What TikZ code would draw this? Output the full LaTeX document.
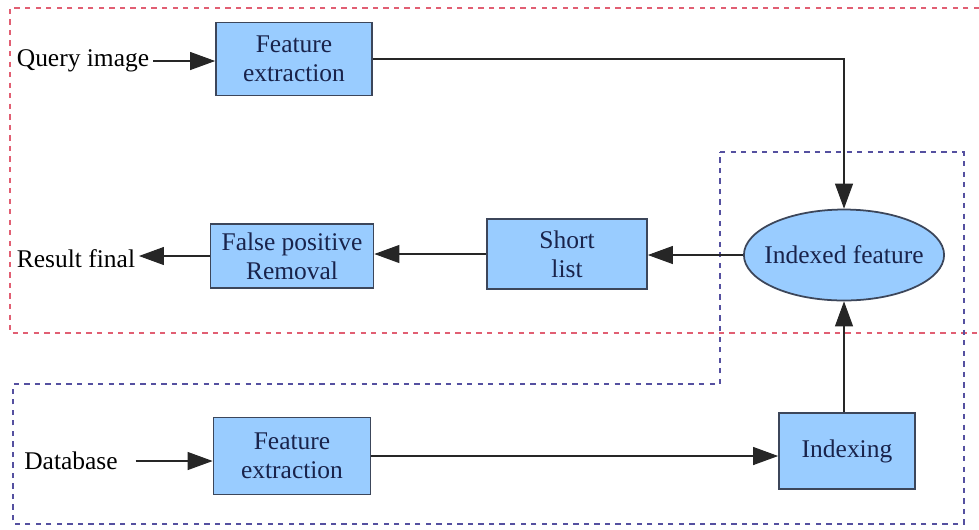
\documentclass[tikz,border=0pt]{standalone}
\usepackage{fontspec}
\setmainfont{Liberation Serif}
\usetikzlibrary{arrows.meta,shapes.geometric}
\definecolor{boxfill}{RGB}{153,204,255}
\definecolor{boxline}{RGB}{60,70,90}
\definecolor{boxtext}{RGB}{25,35,75}
\definecolor{zonered}{RGB}{225,95,115}
\definecolor{zoneblue}{RGB}{85,80,160}

\begin{document}
\begin{tikzpicture}[x=0.02cm,y=-0.02cm,font=\rmfamily\fontsize{14.5}{16.5}\selectfont]
\tikzstyle{lien}=[-{Triangle[length=0.5cm,width=0.36cm]},line width=0.6pt,black!85]
\tikzset{bloc/.style={draw=boxline,line width=1pt,fill=boxfill,text=boxtext,align=center,inner sep=1pt},
etiquette/.style={inner sep=2pt}}
\useasboundingbox (0,0) rectangle (979,529);

% zones
\draw[zonered,dashed,line width=0.9pt] (979,8) -- (10,8) -- (10,333) -- (979,333);
\draw[zoneblue,dashed,line width=0.9pt] (720,152) -- (964,152) -- (964,524) -- (13,524) -- (13,384) -- (720,384) -- cycle;

\node[etiquette] (QI) at (83,61) {Query image};
\node[bloc,minimum width=3.12cm,minimum height=1.46cm] (FE1) at (294,59) {Feature\\extraction};
\node[bloc,ellipse,inner xsep=-5pt,minimum width=3.98cm,minimum height=1.82cm] (IF) at (844,255) {Indexed feature};
\node[bloc,minimum width=3.2cm,minimum height=1.4cm] (SL) at (567,254) {Short\\list};
\node[bloc,minimum width=3.26cm,minimum height=1.28cm] (FP) at (292,256) {False positive\\Removal};
\node[etiquette] (RF) at (76,259) {Result final};
\node[etiquette] (DB) at (71,461) {Database};
\node[bloc,minimum width=3.14cm,minimum height=1.54cm] (FE2) at (292,456) {Feature\\extraction};
\node[bloc,minimum width=2.72cm,minimum height=1.52cm] (IX) at (847,451) {Indexing};

\draw[lien] (QI.east) -- (QI.east -| FE1.west);
\draw[lien] (FE1.east) -| (IF.north);
\draw[lien] (IF.west) -- (SL.east |- IF.west);
\draw[lien] (SL.west) -- (FP.east |- SL.west);
\draw[lien] (FP.west) -- (RF.east |- FP.west);
\draw[lien,shorten <=8pt] (DB.east) -- (DB.east -| FE2.west);
\draw[lien] (FE2.east) -- (IX.west |- FE2.east);
\draw[lien] (IX.north -| IF.south) -- (IF.south);

\end{tikzpicture}
\end{document}
